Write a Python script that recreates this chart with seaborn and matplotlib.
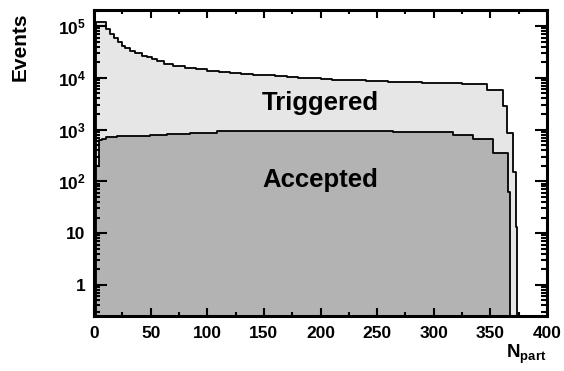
import numpy as np
import pandas as pd
import matplotlib
matplotlib.use("Agg")
import matplotlib.pyplot as plt
import seaborn as sns
from matplotlib.ticker import FixedLocator, MultipleLocator, LogLocator, NullFormatter, FixedFormatter

# ---- data ----
trig_edges = [2, 10.6, 14.4, 17.4, 21.2, 24.7, 27.6, 32, 36.5, 42.4, 46.8, 51.2, 56, 62, 70,
              80, 90, 100, 110, 120, 130, 140, 150, 160, 170, 180, 190, 200, 210, 220, 230,
              240, 250, 260, 270, 280, 290, 303, 325, 347, 361, 365, 370, 372.6, 373.8]
trig_counts = [118000, 87500, 72000, 59500, 49700, 41000, 37000, 32800, 29600, 26700, 24800,
               22800, 20800, 18800, 16900, 15600, 14600, 13700, 12900, 12300, 11900, 11500,
               11200, 10700, 10300, 10000, 9750, 9500, 9300, 9100, 8900, 8750, 8600, 8450,
               8350, 8150, 7950, 8000, 7600, 5800, 2800, 863, 150, 13]

acc_edges = [2, 4.5, 7, 11, 20, 35, 49.4, 64.2, 84.8, 108.3, 173, 215.7, 264.3, 317.3, 335,
             352.6, 365.8, 367.2]
acc_counts = [200, 624, 660, 710, 740, 765, 780, 841, 863, 931, 944, 931, 884, 780, 652,
              361, 62]

xtick_values = [0, 50, 100, 150, 200, 250, 300, 350, 400]
ytick_values = [1, 10, 100, 1000, 10000, 100000]
ytick_labels = ["1", "10", r"$\mathbf{10^{2}}$", r"$\mathbf{10^{3}}$",
                r"$\mathbf{10^{4}}$", r"$\mathbf{10^{5}}$"]
series_labels = ["Triggered", "Accepted"]


def centers(edges):
    e = np.asarray(edges, dtype=float)
    return (e[:-1] + e[1:]) / 2


sns.set_theme(style="ticks")
plt.rcParams["font.family"] = ["Liberation Sans", "DejaVu Sans"]
plt.rcParams["font.weight"] = "bold"
plt.rcParams["text.color"] = "black"
plt.rcParams["axes.labelcolor"] = "black"
plt.rcParams["xtick.color"] = "black"
plt.rcParams["ytick.color"] = "black"
plt.rcParams["axes.axisbelow"] = False
plt.rcParams["mathtext.fontset"] = "custom"
plt.rcParams["mathtext.bf"] = "Liberation Sans:bold"
plt.rcParams["mathtext.rm"] = "Liberation Sans:bold"
plt.rcParams["mathtext.it"] = "Liberation Sans:bold"

W, H = 564, 371
rect = [94 / W, 1 - 316 / H, (547 - 94) / W, (316 - 10) / H]
fig = plt.figure(figsize=(W / 100, H / 100), dpi=100)

# bottom axes: the histograms
ax = fig.add_axes(rect)
ax.set_yscale("log")
sns.histplot(x=centers(trig_edges), weights=trig_counts, bins=trig_edges,
             element="step", fill=True, color="#e6e6e6", alpha=1,
             edgecolor="black", linewidth=1.3, ax=ax)
sns.histplot(x=centers(acc_edges), weights=acc_counts, bins=acc_edges,
             element="step", fill=True, color="#b3b3b3", alpha=1,
             edgecolor="black", linewidth=1.3, ax=ax)
ax.set_xlim(0, 400)
ax.set_ylim(0.25, 2.05e5)
ax.set_xlabel("")
ax.set_ylabel("")
ax.tick_params(which="both", left=False, right=False, top=False, bottom=False,
               labelleft=False, labelbottom=False)
for s in ax.spines.values():
    s.set_visible(False)

# top axes: frame, ticks and labels drawn above the fills
ax2 = fig.add_axes(rect, sharex=ax, sharey=ax)
ax2.set_zorder(ax.get_zorder() + 1)
ax2.patch.set_visible(False)
ax2.set_xlim(0, 400)
ax2.set_ylim(0.25, 2.05e5)

ax2.xaxis.set_major_locator(FixedLocator(xtick_values))
ax2.xaxis.set_major_formatter(FixedFormatter([str(v) for v in xtick_values]))
ax2.xaxis.set_minor_locator(MultipleLocator(25))
ax2.xaxis.set_minor_formatter(NullFormatter())
ax2.yaxis.set_major_locator(FixedLocator(ytick_values))
ax2.yaxis.set_major_formatter(FixedFormatter(ytick_labels))
ax2.yaxis.set_minor_locator(LogLocator(base=10, subs=np.arange(2, 10), numticks=30))
ax2.yaxis.set_minor_formatter(NullFormatter())

ax2.tick_params(which="both", direction="in", top=True, right=True, left=True, bottom=True,
                width=1.5, colors="black")
ax2.tick_params(axis="x", which="major", length=6, pad=7, labelsize=12.5)
ax2.tick_params(axis="x", which="minor", length=3)
ax2.tick_params(axis="y", which="major", length=9, pad=6, labelsize=12.5)
ax2.tick_params(axis="y", which="minor", length=4.5)
for lab in ax2.get_xticklabels() + ax2.get_yticklabels():
    lab.set_fontweight("bold")
    lab.set_color("black")
for s in ax2.spines.values():
    s.set_visible(True)
    s.set_linewidth(2.2)
    s.set_color("black")

ax2.text((320 - 94) / 453, (316 - 110) / 306, series_labels[0], transform=ax2.transAxes,
         ha="center", va="baseline", fontsize=18.5, fontweight="bold", color="black")
ax2.text((320 - 94) / 453, (316 - 186.7) / 306, series_labels[1], transform=ax2.transAxes,
         ha="center", va="baseline", fontsize=18.5, fontweight="bold", color="black")

fig.text(20 / W, 1 - 47 / H, "Events", rotation=90, ha="center", va="center",
         fontsize=15, fontweight="bold", color="black")
fig.text(546 / W, 1 - 358 / H, r"$\mathbf{N_{part}}$", ha="right", va="baseline",
         fontsize=13.5, color="black")

fig.savefig("out.png", dpi=100)
